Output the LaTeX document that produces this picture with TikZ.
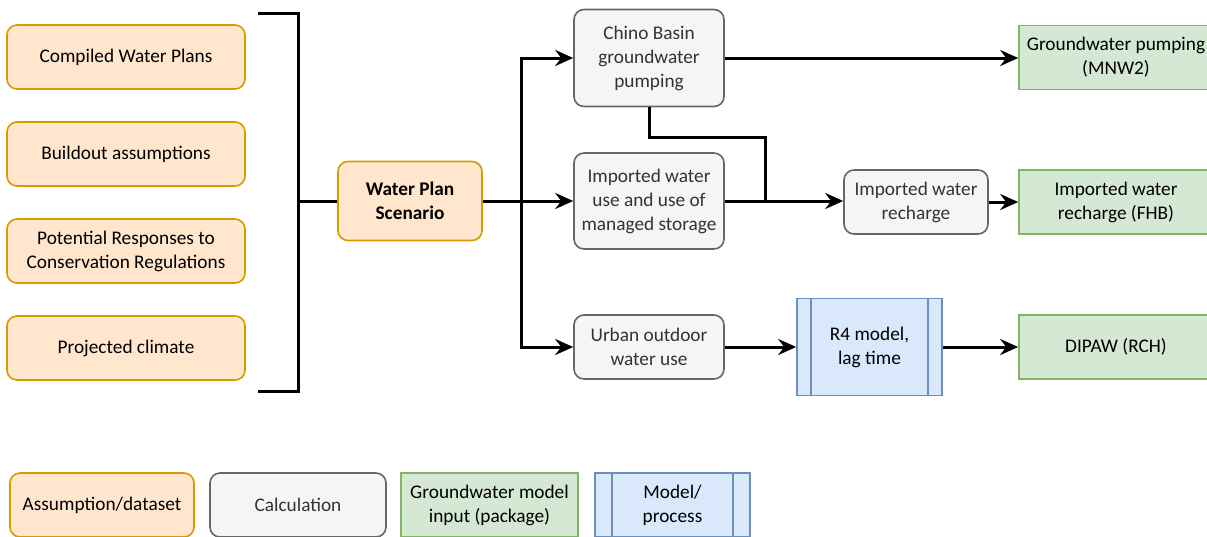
\documentclass[tikz,border=0pt]{standalone}
\usepackage{fontspec}
\setmainfont{Carlito}
\usetikzlibrary{arrows.meta}
\definecolor{orfill}{HTML}{FFE6CC}
\definecolor{orline}{HTML}{D79B00}
\definecolor{grfill}{HTML}{F5F5F5}
\definecolor{grline}{HTML}{666666}
\definecolor{grtext}{HTML}{333333}
\definecolor{gnfill}{HTML}{D5E8D4}
\definecolor{gnline}{HTML}{82B366}
\definecolor{blfill}{HTML}{DAE8FC}
\definecolor{blline}{HTML}{6C8EBF}
\tikzset{
  box/.style={draw, line width=1.6pt, align=center, inner sep=2pt,
    font=\fontsize{19.3}{24}\selectfont},
  assump/.style={box, fill=orfill, draw=orline, rounded corners=10pt, text=black},
  calc/.style={box, fill=grfill, draw=grline, rounded corners=10pt, text=grtext},
  gwin/.style={box, fill=gnfill, draw=gnline, text=black},
  procbox/.style={box, fill=blfill, draw=blline, text=black,
    path picture={
      \draw[blline, line width=1.3pt]
        ([xshift=#1]path picture bounding box.north west) -- ([xshift=#1]path picture bounding box.south west)
        ([xshift=-#1]path picture bounding box.north east) -- ([xshift=-#1]path picture bounding box.south east);
    }},
  conn/.style={draw=black, line width=3pt},
  arr/.style={conn, -{Stealth[length=18pt, width=16pt, inset=6pt]}},
}
\begin{document}
\begin{tikzpicture}[x=1pt, y=-1pt]
\useasboundingbox (0,0) rectangle (1207,536);
\clip (0,0) rectangle (1207,536);

% inputs
\node[assump, minimum width=238pt, minimum height=64pt] (cwp) at (126,57) {Compiled Water Plans};
\node[assump, minimum width=238pt, minimum height=64pt] (bua) at (126,154) {Buildout assumptions};
\node[assump, minimum width=238pt, minimum height=64pt] (prc) at (126,251) {Potential Responses to\\Conservation Regulations};
\node[assump, minimum width=238pt, minimum height=64pt] (pcl) at (126,348) {Projected climate};

% scenario
\node[assump, minimum width=144pt, minimum height=79pt, font=\fontsize{19.3}{24}\selectfont\bfseries] (wps) at (410,201) {Water Plan\\Scenario};

% calculations
\node[calc, minimum width=150pt, minimum height=97pt] (chino) at (649,58) {Chino Basin\\groundwater\\pumping};
\node[calc, minimum width=150pt, minimum height=96pt] (imp) at (649,201) {Imported water\\use and use of\\managed storage};
\node[calc, minimum width=150pt, minimum height=64pt] (urb) at (649,347) {Urban outdoor\\water use};
\node[calc, minimum width=144pt, minimum height=64pt] (irch) at (916,202) {Imported water\\recharge};

% process
\node[procbox=14pt, minimum width=145pt, minimum height=97pt] (r4) at (869.5,347) {R4 model,\\lag time};

% model inputs
\node[gwin, minimum width=194pt, minimum height=64pt] (mnw) at (1116,57.5) {Groundwater pumping\\(MNW2)};
\node[gwin, minimum width=194pt, minimum height=64pt] (fhb) at (1116,202) {Imported water\\recharge (FHB)};
\node[gwin, minimum width=194pt, minimum height=64pt] (rch) at (1116,347) {DIPAW (RCH)};

% bracket
\coordinate (bt) at (258,13);
\coordinate (bb) at (258,391);
\coordinate (bm) at (298,201);
\draw[conn] (bt) -- (bt -| bm) -- (bb -| bm) -- (bb);
\draw[conn] (bm) -- (wps.west);

% split
\coordinate (split) at (521,201);
\draw[conn] (wps.east) -- (split);
\draw[arr] (split) |- (chino.west);
\draw[arr] (wps.east) -- (imp.west);
\draw[arr] (split) |- (urb.west);

% chino to groundwater pumping
\draw[arr] (chino.east) -- (chino.east -| mnw.west);

% chino joining recharge
\coordinate (jn) at (765,137);
\draw[conn] (chino.south) |- (jn) -- (jn |- imp.east);
\draw[arr] (imp.east) -- (imp.east -| irch.west);
\draw[arr] (irch.east) -- (irch.east -| fhb.west);

% urban chain
\draw[arr] (urb.east) -- (urb.east -| r4.west);
\draw[arr] (r4.east) -- (r4.east -| rch.west);

% legend
\node[assump, minimum width=184pt, minimum height=64pt] (lga) at (102,505) {Assumption/dataset};
\node[calc, minimum width=176pt, minimum height=64pt] (lgc) at (298,505) {Calculation};
\node[gwin, minimum width=177pt, minimum height=64pt] (lgg) at (489.5,505) {Groundwater model\\input (package)};
\node[procbox=17pt, minimum width=155pt, minimum height=64pt] (lgp) at (672.5,505) {Model/\\process};
\end{tikzpicture}
\end{document}
